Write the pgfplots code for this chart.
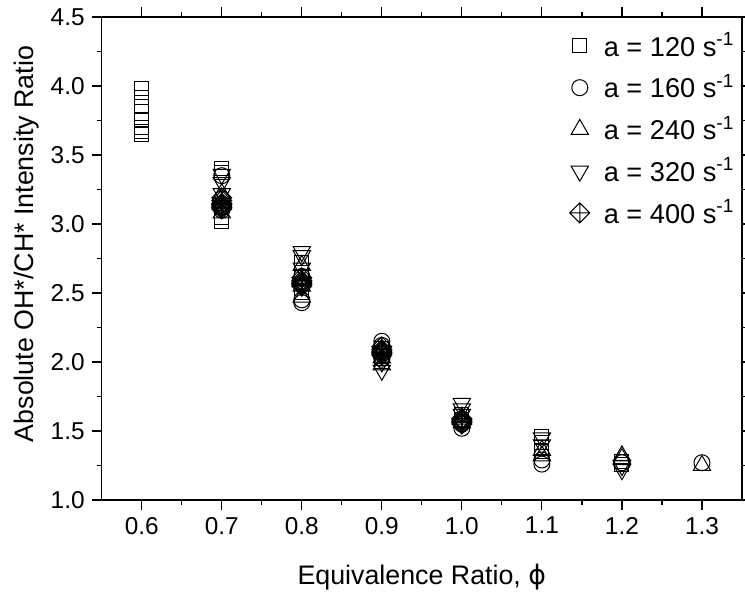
\documentclass[border=0pt]{standalone}
\usepackage{fontspec}
\setmainfont{Liberation Sans}
\newfontfamily\dejavu{DejaVu Sans}
\usepackage{pgfplots}
\pgfplotsset{compat=1.18}
\pgfdeclareplotmark{dcross}{%
  \pgfpathmoveto{\pgfqpoint{0pt}{\pgfplotmarksize}}%
  \pgfpathlineto{\pgfqpoint{\pgfplotmarksize}{0pt}}%
  \pgfpathlineto{\pgfqpoint{0pt}{-\pgfplotmarksize}}%
  \pgfpathlineto{\pgfqpoint{-\pgfplotmarksize}{0pt}}%
  \pgfpathclose
  \pgfpathmoveto{\pgfqpoint{0pt}{\pgfplotmarksize}}%
  \pgfpathlineto{\pgfqpoint{0pt}{-\pgfplotmarksize}}%
  \pgfpathmoveto{\pgfqpoint{-\pgfplotmarksize}{0pt}}%
  \pgfpathlineto{\pgfqpoint{\pgfplotmarksize}{0pt}}%
  \pgfusepathqstroke
}
\begin{document}
\begin{tikzpicture}
\useasboundingbox (-50.85pt,-46pt) rectangle (321.65pt,250pt);
\begin{axis}[
  at={(0,0)}, anchor=south west,
  scale only axis,
  width=320.15pt, height=241.5pt,
  xmin=0.55, xmax=1.35, ymin=1.0, ymax=4.5,
  xtick={0.6,0.7,...,1.3},
  minor x tick num=1,
  ytick={1.0,1.5,...,4.5},
  minor y tick num=1,
  tick align=outside,
  major tick length=5pt, minor tick length=2.5pt,
  axis line style={line width=0.6pt},
  every tick/.style={black, line width=0.6pt},
  /pgf/number format/assume math mode=true,
  xticklabel style={/pgf/number format/.cd, fixed, fixed zerofill, precision=1},
  yticklabel style={/pgf/number format/.cd, fixed, fixed zerofill, precision=1},
  ticklabel style={font=\fontsize{12.2}{14}\selectfont},
  xlabel={Equivalence Ratio, {\dejavu ϕ}},
  ylabel={Absolute OH*/CH* Intensity Ratio},
  label style={font=\fontsize{13.4}{15}\selectfont},
  xlabel style={at={(axis description cs:0.5,-0.176)}, anchor=base},
  ylabel style={at={(axis description cs:-0.106,0.53)}, anchor=base, rotate=0},
  legend style={at={(0.995,0.985)}, anchor=north east, draw=none, fill=none,
    inner xsep=0pt,
    font=\fontsize{13.6}{16}\selectfont, row sep=3.6pt,
    /tikz/every odd column/.append style={column sep=5pt}},
  legend cell align=left,
  clip=false,
]
\addplot[only marks, mark=square, mark size=3.5pt, line width=0.5pt] coordinates {
 (0.6,3.98) (0.6,3.92) (0.6,3.85) (0.6,3.76) (0.6,3.70) (0.6,3.67) (0.6,3.65)
 (0.7,3.40) (0.7,3.37) (0.7,3.05) (0.7,3.02)
 (0.8,2.72) (0.8,2.65) (0.8,2.50)
 (0.9,2.10) (0.9,2.04) (0.9,2.00)
 (1.0,1.62) (1.0,1.58)
 (1.1,1.46) (1.1,1.42) (1.1,1.38) (1.1,1.35)
 (1.2,1.28) (1.2,1.26)
};
\addlegendentry{a = 120 s\textsuperscript{-1}}
\addplot[only marks, mark=o, mark size=4pt, line width=0.5pt] coordinates {
 (0.7,3.35) (0.7,3.18) (0.7,3.10)
 (0.8,2.62) (0.8,2.45) (0.8,2.43)
 (0.9,2.15) (0.9,2.12) (0.9,2.02)
 (1.0,1.55) (1.0,1.52)
 (1.1,1.29) (1.1,1.26)
 (1.2,1.27)
 (1.3,1.27)
};
\addlegendentry{a = 160 s\textsuperscript{-1}}
\addplot[only marks, mark=triangle, mark size=5pt, line width=0.5pt] coordinates {
 (0.7,3.22) (0.7,3.15) (0.7,3.08)
 (0.8,2.70) (0.8,2.55) (0.8,2.47)
 (0.9,2.08) (0.9,2.03) (0.9,1.98)
 (1.0,1.60) (1.0,1.56)
 (1.1,1.36) (1.1,1.32)
 (1.2,1.32) (1.2,1.30)
 (1.3,1.25)
};
\addlegendentry{a = 240 s\textsuperscript{-1}}
\addplot[only marks, mark=triangle, mark size=5pt, line width=0.5pt, mark options={rotate=180}] coordinates {
 (0.7,3.36) (0.7,3.30) (0.7,3.22)
 (0.8,2.80) (0.8,2.77) (0.8,2.68)
 (0.9,2.06) (0.9,2.00) (0.9,1.94)
 (1.0,1.70) (1.0,1.66) (1.0,1.62)
 (1.1,1.45) (1.1,1.40)
 (1.2,1.25) (1.2,1.22)
};
\addlegendentry{a = 320 s\textsuperscript{-1}}
\addplot[only marks, mark=dcross, mark size=5pt, line width=0.5pt] coordinates {
 (0.7,3.19) (0.7,3.17) (0.7,3.15) (0.7,3.14) (0.7,3.13) (0.7,3.12) (0.7,3.11)
 (0.8,2.61) (0.8,2.59) (0.8,2.58) (0.8,2.57) (0.8,2.56) (0.8,2.55)
 (0.9,2.11) (0.9,2.09) (0.9,2.08) (0.9,2.07) (0.9,2.06) (0.9,2.05)
 (1.0,1.59) (1.0,1.58) (1.0,1.57) (1.0,1.56) (1.0,1.55)
};
\addlegendentry{a = 400 s\textsuperscript{-1}}
\end{axis}
\end{tikzpicture}
\end{document}
